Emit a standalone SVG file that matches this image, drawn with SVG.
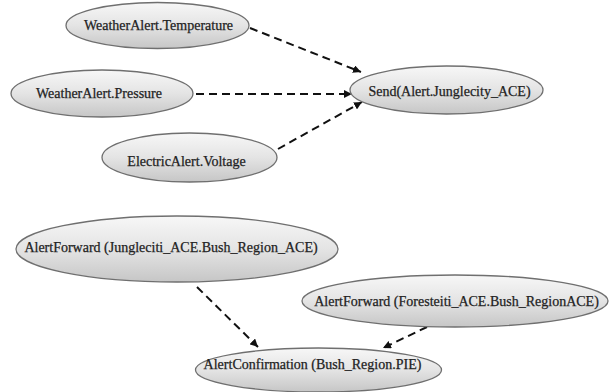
<svg xmlns="http://www.w3.org/2000/svg" width="611" height="392" viewBox="0 0 611 392">
<defs>
<linearGradient id="g" x1="0" y1="0" x2="0" y2="1">
<stop offset="0" stop-color="#f7f7f7"/>
<stop offset="0.5" stop-color="#e4e4e4"/>
<stop offset="1" stop-color="#c6c6c6"/>
</linearGradient>
<marker id="ah" viewBox="0 0 10 10" refX="10" refY="5" markerWidth="8" markerHeight="8" markerUnits="userSpaceOnUse" orient="auto">
<path d="M0,0 L10,5 L0,10 z" fill="#111"/>
</marker>
<style>
.n ellipse{fill:url(#g);stroke:#6f6f6f;stroke-width:1.3}
.n text{font-family:"Liberation Serif","Times New Roman",serif;font-size:14px;fill:#222;stroke:#222;stroke-width:0.25;text-anchor:middle}
.e line{stroke:#111;stroke-width:2;stroke-dasharray:8 5;fill:none;marker-end:url(#ah)}
</style>
</defs>
<rect width="611" height="392" fill="#fff"/>
<g id="connectors" class="e">
<line x1="250" y1="28" x2="361" y2="72"/>
<line x1="196" y1="94" x2="352" y2="94"/>
<line x1="278" y1="149" x2="362" y2="102"/>
<line x1="197" y1="287" x2="258" y2="347"/>
<line x1="427" y1="327" x2="383" y2="348"/>
</g>
<g id="temperature" class="n">
<ellipse cx="157.5" cy="25.5" rx="91.5" ry="23"/>
<text x="158.5" y="30">WeatherAlert.Temperature</text>
</g>
<g id="pressure" class="n">
<ellipse cx="102" cy="93.5" rx="91" ry="23.5"/>
<text x="99" y="97.5">WeatherAlert.Pressure</text>
</g>
<g id="voltage" class="n">
<ellipse cx="189.5" cy="157.5" rx="87.5" ry="24.5"/>
<text x="186.5" y="166">ElectricAlert.Voltage</text>
</g>
<g id="send" class="n">
<ellipse cx="446.5" cy="90" rx="96.5" ry="24"/>
<text x="449.5" y="96">Send(Alert.Junglecity_ACE)</text>
</g>
<g id="forward-jungle" class="n">
<ellipse cx="177" cy="249" rx="161" ry="33"/>
<text x="171" y="252">AlertForward (Jungleciti_ACE.Bush_Region_ACE)</text>
</g>
<g id="forward-forest" class="n">
<ellipse cx="455" cy="301" rx="153" ry="26"/>
<text x="456.5" y="306">AlertForward (Foresteiti_ACE.Bush_RegionACE)</text>
</g>
<g id="confirmation" class="n">
<ellipse cx="318.5" cy="370" rx="123" ry="22"/>
<text x="312.5" y="369">AlertConfirmation (Bush_Region.PIE)</text>
</g>
</svg>
